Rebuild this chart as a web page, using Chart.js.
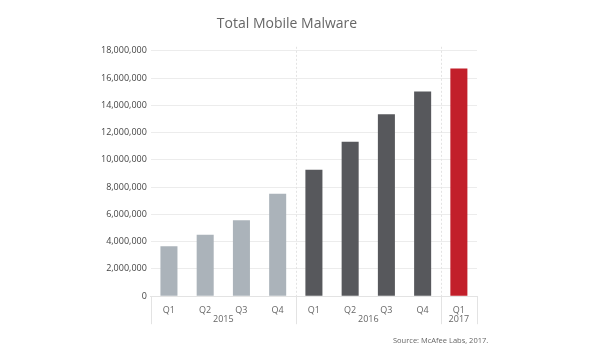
<!DOCTYPE html>
<html>
<head>
<meta charset="utf-8">
<script src="https://cdn.jsdelivr.net/npm/chart.js@4"></script>
<style>
  html, body { margin: 0; padding: 0; background: #fff; }
  #wrap { width: 600px; height: 350px; position: relative; }
</style>
</head>
<body>
<div id="wrap"><canvas id="chart"></canvas></div>
<script>
// quarters and values
const quarters = ['Q1', 'Q2', 'Q3', 'Q4', 'Q1', 'Q2', 'Q3', 'Q4', 'Q1']
const years = ['2015', '2016', '2017']
const yearStart = [0, 4, 8]
const yearEnd = [3, 7, 8]
const malware = [3660000, 4510000, 5580000, 7510000, 9270000, 11320000, 13340000, 15020000, 16700000]
const barColors = ['#abb3ba', '#abb3ba', '#abb3ba', '#abb3ba', '#57585c', '#57585c', '#57585c', '#57585c', '#c21f2a']

const font = '"Open Sans", sans-serif'

// separators between years, year labels, source line
const groups = {
  id: 'groups',
  afterDraw (chart) {
    const ctx = chart.ctx
    const x = chart.scales.x
    const area = chart.chartArea
    const half = (x.getPixelForValue(1) - x.getPixelForValue(0)) / 2
    ctx.save()
    ctx.strokeStyle = '#e3e3e3'
    ctx.lineWidth = 1
    // tick lines under the axis at the group edges
    let edges = [x.getPixelForValue(0) - half]
    yearEnd.forEach(e => edges.push(x.getPixelForValue(e) + half))
    edges.forEach(px => {
      px = Math.round(px) + 0.5
      ctx.beginPath()
      ctx.moveTo(px, area.bottom)
      ctx.lineTo(px, area.bottom + 28)
      ctx.stroke()
    })
    // dotted lines in the plot
    ctx.setLineDash([2, 2])
    edges.slice(1, -1).forEach(px => {
      px = Math.round(px) + 0.5
      ctx.beginPath()
      ctx.moveTo(px, area.top - 4)
      ctx.lineTo(px, area.bottom)
      ctx.stroke()
    })
    ctx.setLineDash([])
    ctx.fillStyle = '#666'
    ctx.font = '9px ' + font
    ctx.textAlign = 'center'
    ctx.textBaseline = 'middle'
    years.forEach((y, i) => {
      const cx = (x.getPixelForValue(yearStart[i]) + x.getPixelForValue(yearEnd[i])) / 2
      ctx.fillText(y, cx, area.bottom + 23)
    })
    ctx.textAlign = 'left'
    ctx.font = '7.5px ' + font
    ctx.fillText('Source: McAfee Labs, 2017.', 393, 341)
    ctx.restore()
  }
}

const ctx = document.getElementById('chart').getContext('2d')
const myChart = new Chart(ctx, {
  type: 'bar',
  data: {
    labels: quarters,
    datasets: [{
      data: malware,
      backgroundColor: barColors,
      barPercentage: 0.47,
      categoryPercentage: 1
    }]
  },
  options: {
    responsive: true,
    maintainAspectRatio: false,
    animation: false,
    layout: { padding: { left: 97, right: 123, top: 0, bottom: 25 } },
    plugins: {
      legend: { display: false },
      tooltip: { enabled: false },
      title: {
        display: true,
        text: 'Total Mobile Malware',
        color: '#666',
        font: { family: font, size: 14, weight: 'normal' },
        padding: { top: 16, bottom: 18 }
      }
    },
    scales: {
      x: {
        grid: { display: false, drawTicks: false },
        border: { color: '#e3e3e3' },
        ticks: { color: '#666', font: { family: font, size: 9 }, padding: 9, maxRotation: 0 }
      },
      y: {
        min: 0,
        max: 18000000,
        grid: { color: '#ececec', drawTicks: false },
        border: { display: false },
        ticks: {
          stepSize: 2000000,
          color: '#444',
          padding: 4,
          font: { family: font, size: 9 },
          callback: v => v.toLocaleString('en-US')
        }
      }
    }
  },
  plugins: [groups]
})
</script>
</body>
</html>
